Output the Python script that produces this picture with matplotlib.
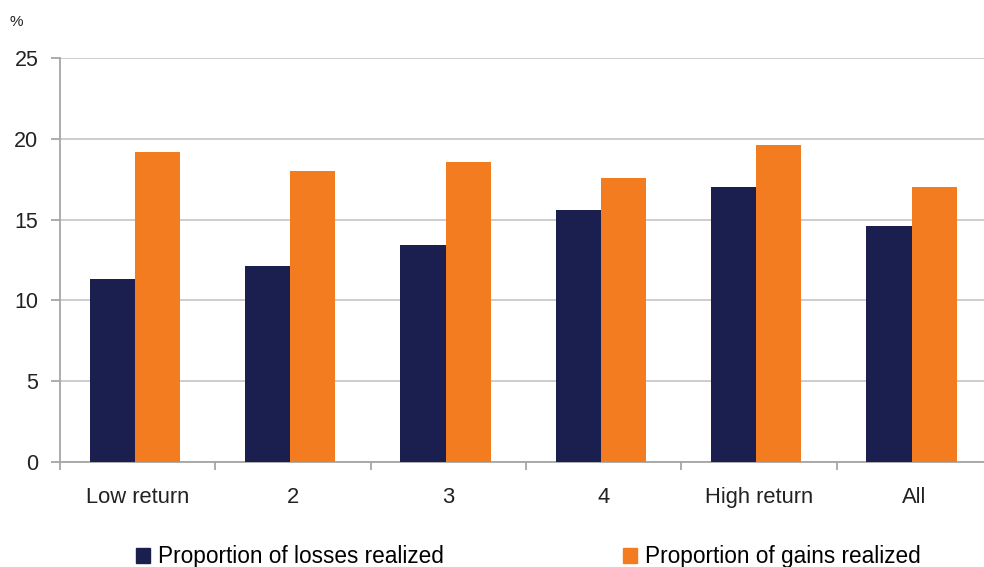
import matplotlib
matplotlib.use("Agg")
import matplotlib.pyplot as plt
import numpy as np
from matplotlib.patches import Patch

categories = ["Low return", "2", "3", "4", "High return", "All"]
losses = [11.3, 12.1, 13.4, 15.6, 17.0, 14.6]
gains = [19.2, 18.0, 18.6, 17.6, 19.6, 17.0]
yticks = [0, 5, 10, 15, 20, 25]

navy = "#1b1f4f"
orange = "#f37b20"
axis_grey = "#a6a6a6"
grid_grey = "#c9c9c9"

plt.rcParams['font.family'] = ['Liberation Sans', 'DejaVu Sans']

fig = plt.figure(figsize=(9.84, 5.67), dpi=100)
ax = fig.add_axes([60/984, 1-461.7/567, 932/984, (461.7-58.3)/567])

x = np.arange(len(categories))
w = 0.29
off = -0.018
ax.bar(x + off - w/2, losses, width=w, color=navy, zorder=3)
ax.bar(x + off + w/2, gains, width=w, color=orange, zorder=3)

ax.set_xlim(-0.5, len(categories) - 0.5)
ax.set_ylim(0, 25)
ax.set_yticks(yticks)
ax.yaxis.grid(True, color=grid_grey, linewidth=1.3, zorder=0)
ax.set_axisbelow(True)

ax.set_xticks(x)
ax.set_xticklabels(categories, fontsize=15.8, color="#222222")
ax.set_xticks(np.arange(-0.5, len(categories) + 0.5, 1), minor=True)
ax.tick_params(axis='x', which='major', length=0, pad=18)
ax.tick_params(axis='x', which='minor', length=6, color=axis_grey, width=1.3)
ax.tick_params(axis='y', length=6.5, color=axis_grey, width=1.3, labelsize=15.5, pad=9, labelcolor="#222222")

for s in ["top", "right"]:
    ax.spines[s].set_visible(False)
for s in ["left", "bottom"]:
    ax.spines[s].set_color(axis_grey)
    ax.spines[s].set_linewidth(1.3)

fig.text(9/984, 1-22/567, "%", fontsize=11, color="#222222", va="center", ha="left")

handles = [Patch(color=navy), Patch(color=orange)]
fig.legend(handles, ["Proportion of losses realized", "Proportion of gains realized"],
           loc="center left", bbox_to_anchor=(136/984, 1-557/567), ncol=2,
           frameon=False, fontsize=16.3, handlelength=0.6, handleheight=0.6,
           handletextpad=0.35, columnspacing=7.95, borderpad=0, borderaxespad=0)

fig.savefig("out.png", dpi=100)
